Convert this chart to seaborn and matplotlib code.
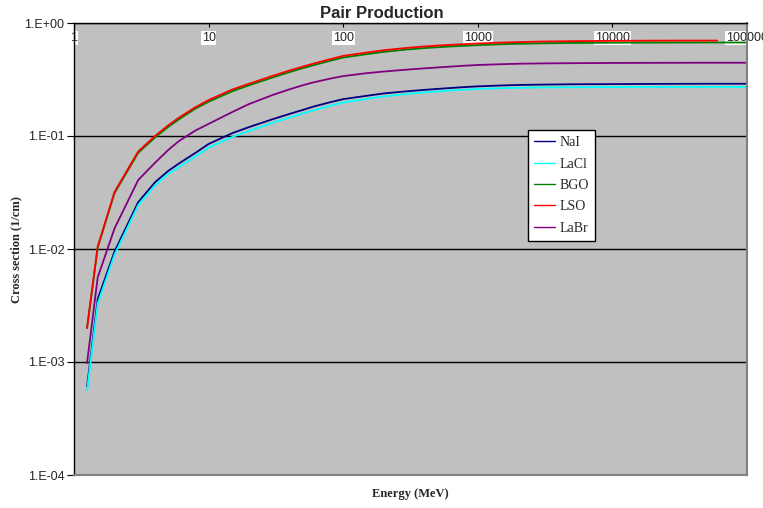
import numpy as np
import pandas as pd
import matplotlib
matplotlib.use("Agg")
import matplotlib.pyplot as plt
import seaborn as sns
from matplotlib.ticker import FixedLocator, FixedFormatter, NullLocator

# ── Data ──────────────────────────────────────────────────────────────────────
energy = [1.25, 1.5, 2, 3, 4, 5, 6, 8, 10, 15, 20, 30, 40, 50, 60, 80,
          100, 150, 200, 300, 400, 500, 600, 800, 1000, 1500, 2000, 3000,
          5000, 10000, 20000, 50000, 100000]
energy_lso = energy[:-2] + [60000]

nai = [6.05e-4, 3.6e-3, 9.5e-3, 2.6e-2, 3.9e-2, 4.9e-2, 5.7e-2, 7.1e-2,
       8.5e-2, 0.106, 0.120, 0.141, 0.157, 0.170, 0.182, 0.199,
       0.212, 0.227, 0.238, 0.249, 0.256, 0.261, 0.265, 0.271, 0.275,
       0.280, 0.283, 0.285, 0.287, 0.288, 0.289, 0.290, 0.290]
lacl = [5.6e-4, 3.3e-3, 8.9e-3, 2.45e-2, 3.65e-2, 4.6e-2, 5.3e-2, 6.6e-2,
        7.9e-2, 9.8e-2, 0.111, 0.131, 0.146, 0.158, 0.169, 0.185,
        0.198, 0.213, 0.224, 0.236, 0.243, 0.248, 0.252, 0.257, 0.261,
        0.265, 0.267, 0.269, 0.270, 0.271, 0.272, 0.272, 0.272]
bgo = [2.0e-3, 1.03e-2, 3.12e-2, 7.1e-2, 9.7e-2, 0.120, 0.140, 0.175,
       0.201, 0.249, 0.281, 0.330, 0.368, 0.398, 0.423, 0.463,
       0.495, 0.530, 0.555, 0.583, 0.600, 0.610, 0.618, 0.629, 0.637,
       0.649, 0.655, 0.661, 0.666, 0.669, 0.671, 0.672, 0.672]
lso = [2.0e-3, 1.05e-2, 3.2e-2, 7.3e-2, 0.100, 0.124, 0.145, 0.180,
       0.208, 0.258, 0.290, 0.341, 0.380, 0.411, 0.437, 0.478,
       0.512, 0.548, 0.574, 0.603, 0.620, 0.631, 0.639, 0.650, 0.659,
       0.671, 0.678, 0.685, 0.691, 0.695, 0.698, 0.699]
labr = [9.8e-4, 5.6e-3, 1.52e-2, 4.08e-2, 5.8e-2, 7.5e-2, 9.0e-2, 0.112,
        0.128, 0.163, 0.192, 0.231, 0.259, 0.281, 0.298, 0.322,
        0.339, 0.360, 0.372, 0.387, 0.397, 0.404, 0.410, 0.419, 0.425,
        0.432, 0.436, 0.439, 0.441, 0.443, 0.444, 0.445, 0.445]

materials = ["NaI", "LaCl", "BGO", "LSO", "LaBr"]
colors = ["#000080", "#00FFFF", "#008000", "#FF0000", "#800080"]

x_ticks = [1, 10, 100, 1000, 10000, 100000]
x_ticklabels = ["1", "10", "100", "1000", "10000", "100000"]
y_ticks = [1e-4, 1e-3, 1e-2, 1e-1, 1e0]
y_ticklabels = ["1.E-04", "1.E-03", "1.E-02", "1.E-01", "1.E+00"]

series = {"NaI": (energy, nai), "LaCl": (energy, lacl), "BGO": (energy, bgo),
          "LSO": (energy_lso, lso), "LaBr": (energy, labr)}
rows = []
for m in materials:
    ex, ey = series[m]
    for e, v in zip(ex, ey):
        rows.append({"Energy": e, "Sigma": v, "Material": m})
df = pd.DataFrame(rows)

# ── Figure ────────────────────────────────────────────────────────────────────
sns.set_style("white")
sans = ["Liberation Sans", "DejaVu Sans"]
serif = ["Liberation Serif", "DejaVu Serif"]

fig = plt.figure(figsize=(7.63, 5.08), dpi=100)
ax = fig.add_axes([74/763, 33/508, 673/763, 452/508])
ax.set_facecolor("#C0C0C0")

sns.lineplot(data=df, x="Energy", y="Sigma", hue="Material",
             hue_order=materials, palette=colors, sort=False,
             estimator=None, lw=1.3, ax=ax)

ax.set_xscale("log")
ax.set_yscale("log")
ax.set_xlim(1, 100000)
ax.set_ylim(1e-4, 1)

ax.xaxis.set_major_locator(FixedLocator(x_ticks))
ax.xaxis.set_major_formatter(FixedFormatter(x_ticklabels))
ax.xaxis.set_minor_locator(NullLocator())
ax.yaxis.set_major_locator(FixedLocator(y_ticks))
ax.yaxis.set_major_formatter(FixedFormatter(y_ticklabels))
ax.yaxis.set_minor_locator(NullLocator())

ax.tick_params(axis="x", top=True, bottom=False, labeltop=True,
               labelbottom=False, direction="in", length=3, pad=-15,
               labelsize=9, color="black")
ax.tick_params(axis="y", left=True, direction="out", length=5, pad=2,
               labelsize=9, color="black")
for lbl in ax.get_xticklabels():
    lbl.set_family(sans)
    lbl.set_bbox(dict(facecolor="white", edgecolor="none", pad=0.6))
for lbl in ax.get_yticklabels():
    lbl.set_family(sans)

ax.yaxis.grid(True, color="black", lw=1.0)
ax.xaxis.grid(False)
ax.set_axisbelow(True)

for side in ["left", "top"]:
    ax.spines[side].set_color("black")
    ax.spines[side].set_linewidth(1.0)
for side in ["right", "bottom"]:
    ax.spines[side].set_color("#808080")
    ax.spines[side].set_linewidth(1.5)

ax.set_xlabel("")
ax.set_ylabel("")
fig.text(410/763, 1 - 494/508, "Energy (MeV)", ha="center", va="center",
         fontsize=9, fontweight="bold", family=serif)
fig.text(16/763, 1 - 250/508, "Cross section (1/cm)", ha="center",
         va="center", rotation=90, fontsize=9, fontweight="bold",
         family=serif)
fig.text(0.5, 1 - 13/508, "Pair Production", ha="center", va="center",
         fontsize=12, fontweight="bold", family=sans)

handles, labels = ax.get_legend_handles_labels()
leg = ax.legend(handles, labels, loc="upper left",
                bbox_to_anchor=((528 - 74)/673, (475 - 130)/452),
                frameon=True, fancybox=False, framealpha=1,
                edgecolor="black", facecolor="white",
                prop={"family": serif, "size": 10},
                handlelength=1.5, handletextpad=0.3, labelspacing=0.6,
                borderpad=0.45, borderaxespad=0)
leg.get_frame().set_linewidth(1.0)
for h in leg.get_lines():
    h.set_linewidth(1.0)

fig.savefig("out.png", dpi=100, facecolor="white")
